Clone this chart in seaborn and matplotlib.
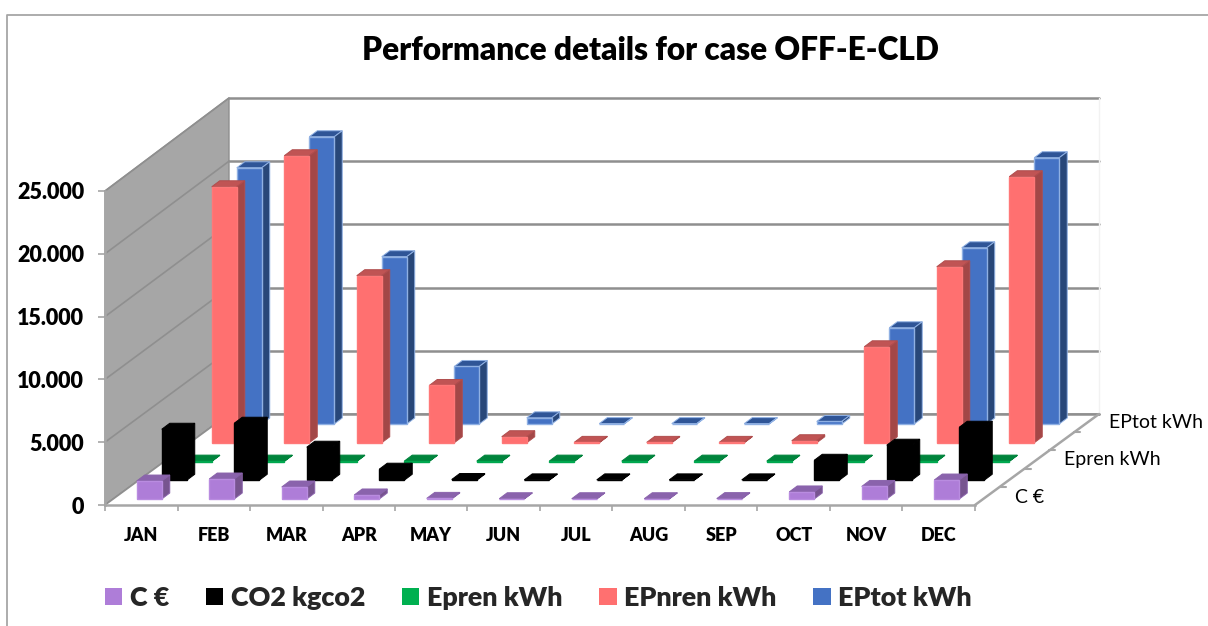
import matplotlib
matplotlib.use("Agg")
import matplotlib.pyplot as plt
from matplotlib.lines import Line2D
from matplotlib.patches import Patch, Polygon
from matplotlib.transforms import Affine2D
import seaborn as sns

MONTHS = ["JAN", "FEB", "MAR", "APR", "MAY", "JUN", "JUL", "AUG", "SEP", "OCT", "NOV", "DEC"]
C_EUR = [1430, 1590, 955, 320, 50, 20, 20, 20, 30, 560, 1000, 1510]
CO2 = [4060, 4540, 2630, 880, 60, 30, 30, 30, 30, 1590, 2790, 4220]
EPREN = [30, 30, 30, 30, 30, 30, 30, 30, 30, 30, 30, 30]
EPNREN = [20380, 22850, 13300, 4560, 480, 30, 30, 30, 160, 7640, 14010, 21180]
EPTOT = [20400, 22870, 13320, 4580, 490, 30, 30, 30, 200, 7660, 14030, 21200]
SERIES_NAMES = ["C €", "CO2 kgco2", "Epren kWh", "EPnren kWh", "EPtot kWh"]
SERIES_VALUES = [C_EUR, CO2, EPREN, EPNREN, EPTOT]
DEPTH_LABELS = {0: "C €", 2: "Epren kWh", 4: "EPtot kWh"}
DEPTH_LABEL_NUDGE = {0: (28, -2), 2: (27, 0), 4: (22, 1)}
TITLE = "Performance details for case OFF-E-CLD"
YTICKS = [0, 5000, 10000, 15000, 20000, 25000]
YLABELS = ["0", "5.000", "10.000", "15.000", "20.000", "25.000"]

# (front, top, side, front edge, face edge)
STYLES = [
    ("#AE7DD8", "#8A63AC", "#77548F", "#B98CE0", "#8A63AC"),
    ("#000000", "#000000", "#000000", "#000000", "#000000"),
    ("#00A84F", "#00843C", "#006B31", "#00A84F", "#00843C"),
    ("#FF7070", "#C05454", "#A34747", "#FF7878", "#B04D4D"),
    ("#4472C4", "#2F5597", "#284779", "#8FB0E3", "#8FB0E3"),
]
LEGEND_COLORS = ["#AE7DD8", "#000000", "#00B050", "#FF7070", "#4472C4"]
BOLD = 800

sns.set_theme(style="white")
plt.rcParams["font.family"] = ["Lato", "DejaVu Sans"]

W, H = 1208, 626
fig = plt.figure(figsize=(W / 100, H / 100), dpi=100, facecolor="white")
ax = fig.add_axes([105 / W, (H - 505) / H, 870 / W, 314 / H])
ax.patch.set_visible(False)

XU = 1 / 72.5            # month units per pixel
YU = 25000 / 314         # value units per pixel
FULL = (124 * XU, 91 * YU)
STEP = (25 * XU, 18.75 * YU)
GAP = (8 * XU, 6 * YU)
BAR_W = 25 * XU
BACK = 316 / 314         # the back wall is drawn slightly taller than the front plane
GREY = "#A6A6A6"
GRID = "#8F8F8F"
LEFT, RIGHT = -0.5, 11.5
TOP = YTICKS[-1]


def shifted(dx, dy):
    return Affine2D().translate(dx, dy) + ax.transData


# walls and floor
ax.add_patch(Polygon([(LEFT, 0), (LEFT, TOP), (LEFT + FULL[0], TOP * BACK + FULL[1]),
                      (LEFT + FULL[0], FULL[1])],
                     closed=True, facecolor="#A6A6A6", edgecolor=GRID, lw=1, zorder=0.5, clip_on=False))
for v in YTICKS:
    ax.plot([LEFT, LEFT + FULL[0]], [v, v * BACK + FULL[1]], color=GRID, lw=1.2, zorder=0.6, clip_on=False)
    ax.plot([LEFT + FULL[0], RIGHT + FULL[0]], [v * BACK + FULL[1]] * 2, color=GRID, lw=1.8, zorder=0.7, clip_on=False)
ax.add_patch(Polygon([(LEFT, 0), (RIGHT, 0), (RIGHT + FULL[0], FULL[1]), (LEFT + FULL[0], FULL[1])],
                     closed=True, facecolor="white", edgecolor="none", zorder=0.8, clip_on=False))
ax.plot([LEFT + FULL[0], RIGHT + FULL[0]], [FULL[1]] * 2, color=GRID, lw=1.8, zorder=0.9, clip_on=False)
ax.plot([LEFT, LEFT + FULL[0]], [0, FULL[1]], color=GRID, lw=1.2, zorder=0.9, clip_on=False)
ax.plot([RIGHT + FULL[0]] * 2, [FULL[1], TOP * BACK + FULL[1]], color="#F2F2F2", lw=1, zorder=0.7, clip_on=False)

# depth axis along the right floor edge
ax.plot([RIGHT, RIGHT + FULL[0]], [0, FULL[1]], color=GREY, lw=1.8, zorder=1, clip_on=False)
for k in range(1, 5):
    fx, fy = RIGHT + FULL[0] * k / 5, FULL[1] * k / 5
    ax.plot([fx, fx + 6 * XU], [fy, fy], color=GREY, lw=1.5, zorder=1, clip_on=False)
for i, label in DEPTH_LABELS.items():
    fx, fy = RIGHT + FULL[0] * (i + 0.5) / 5, FULL[1] * (i + 0.5) / 5
    ax.annotate(label, xy=(fx, fy), xytext=DEPTH_LABEL_NUDGE[i], textcoords="offset pixels", va="center",
                ha="left", fontsize=14, color="black", annotation_clip=False)

# bars, back row first
for i in range(4, -1, -1):
    front, top, side, edge, face_edge = STYLES[i]
    before = len(ax.patches)
    sns.barplot(x=MONTHS, y=SERIES_VALUES[i], order=MONTHS, color=front, saturation=1, width=BAR_W,
                errorbar=None, edgecolor=edge, linewidth=1.0, ax=ax, zorder=12 - 2 * i)
    ox = GAP[0] + STEP[0] * i
    oy = GAP[1] + STEP[1] * i
    tr = shifted(ox, oy)
    for bar in ax.patches[before:]:
        bar.set_transform(tr)
        bar.set_clip_on(False)
        x0, w, h = bar.get_x(), bar.get_width(), bar.get_height()
        x1 = x0 + w
        ax.add_patch(Polygon([(x0, h), (x1, h), (x1 + GAP[0], h + GAP[1]), (x0 + GAP[0], h + GAP[1])],
                             closed=True, facecolor=top, edgecolor=face_edge, lw=0.7, transform=tr,
                             zorder=11 - 2 * i, clip_on=False))
        ax.add_patch(Polygon([(x1, 0), (x1, h), (x1 + GAP[0], h + GAP[1]), (x1 + GAP[0], GAP[1])],
                             closed=True, facecolor=side, edgecolor=face_edge, lw=0.7, transform=tr,
                             zorder=11 - 2 * i, clip_on=False))

# axes, ticks and labels
ax.set_xlim(LEFT, RIGHT)
ax.set_ylim(0, TOP)
ax.set_xlabel("")
ax.set_ylabel("")
ax.grid(False)
for name in ("top", "right"):
    ax.spines[name].set_visible(False)
for name in ("left", "bottom"):
    ax.spines[name].set_color(GREY)
    ax.spines[name].set_linewidth(1.8)
    ax.spines[name].set_zorder(1.2)
ax.set_yticks(YTICKS)
ax.set_yticklabels(YLABELS, fontsize=15.5, fontweight=BOLD, color="black")
ax.set_xticks([k + 0.5 for k in range(-1, 12)], minor=True)
ax.set_xticks(range(12))
ax.set_xticklabels(MONTHS, fontsize=13, fontweight=BOLD, color="black")
ax.tick_params(axis="y", which="major", left=True, length=5, width=1.2, color=GREY, pad=10)
ax.tick_params(axis="x", which="major", bottom=False, pad=10)
ax.tick_params(axis="x", which="minor", bottom=True, length=4.5, width=1.2, color=GREY)

fig.text(650 / W, 1 - 51 / H, TITLE, ha="center", va="center", fontsize=22.8, fontweight=BOLD, color="black")

handles = [Patch(facecolor=c, edgecolor="none", label=n) for c, n in zip(LEGEND_COLORS, SERIES_NAMES)]
fig.legend(handles=handles, loc="center left", bbox_to_anchor=(105 / W, 1 - 598 / H), ncol=5, frameon=False,
           prop={"weight": BOLD, "size": 19.4}, handlelength=0.64, handleheight=0.64, handletextpad=0.27,
           columnspacing=1.38, borderaxespad=0, borderpad=0)

# chart-area border
fig.add_artist(Line2D([7.5 / W, 7.5 / W, 1], [0, 1 - 14.5 / H, 1 - 14.5 / H], color=GREY, lw=1.3))

fig.savefig("out.png", dpi=100, facecolor="white")
